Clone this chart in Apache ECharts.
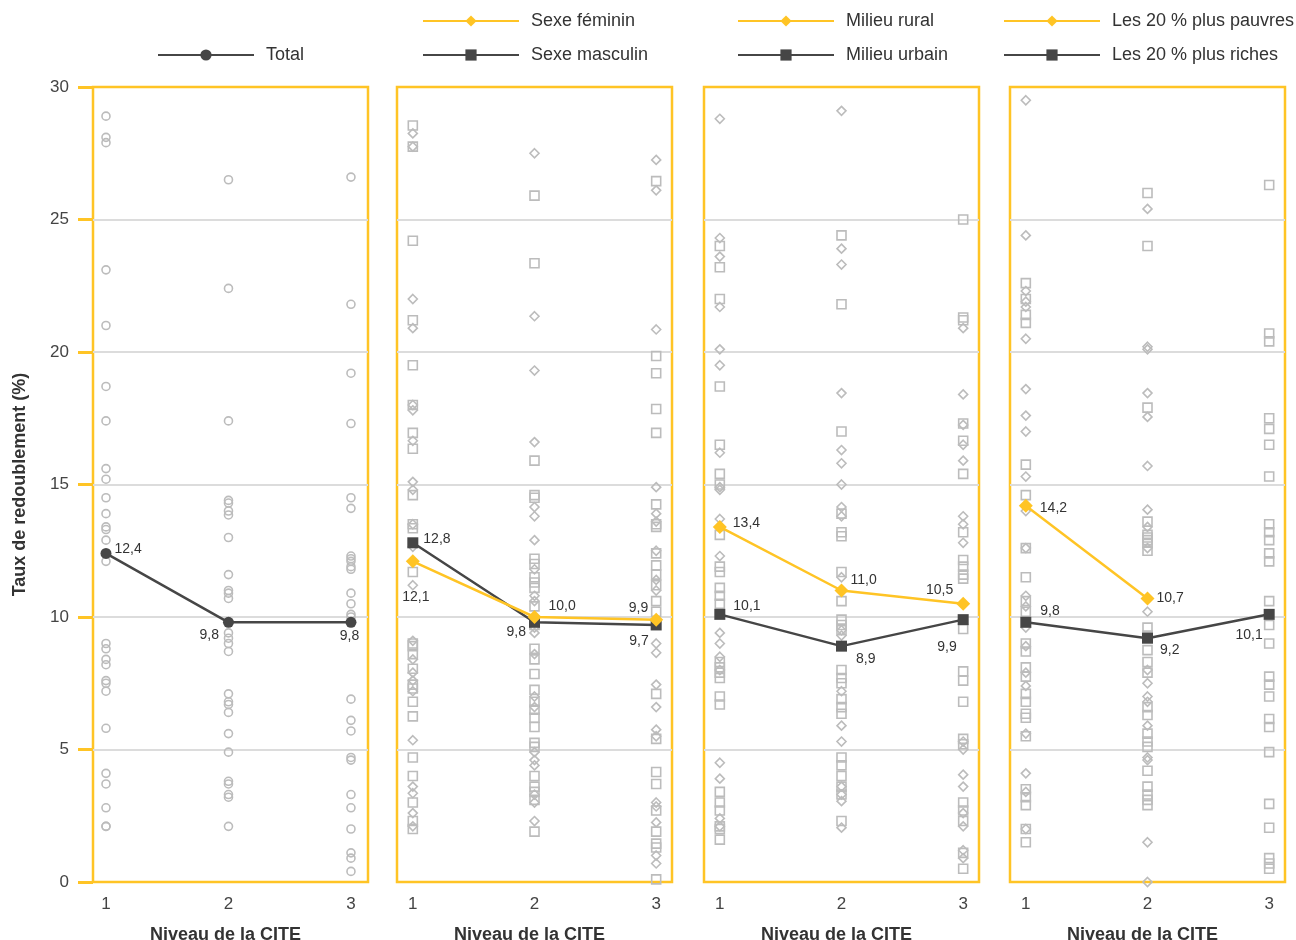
<!DOCTYPE html>
<html><head><meta charset="utf-8">
<script src="https://cdn.jsdelivr.net/npm/echarts@6/dist/echarts.min.js"></script>
<style>html,body{margin:0;padding:0;background:#fff}#c{width:1296px;height:940px}</style>
</head><body><div id="c"></div>
<script>
// ---- Data ----
const levels = [1, 2, 3];
const yTicks = [0, 5, 10, 15, 20, 25, 30];

// Line series (means)
const totalLine = [12.4, 9.8, 9.8];
const femLine = [12.1, 10.0, 9.9];
const mascLine = [12.8, 9.8, 9.7];
const ruralLine = [13.4, 11.0, 10.5];
const urbainLine = [10.1, 8.9, 9.9];
const pauvresLine = [14.2, 10.7];
const richesLine = [9.8, 9.2, 10.1];

// Country points, per CITE level [level1, level2, level3]
const totalPts = [
  [28.9, 28.1, 27.9, 23.1, 21.0, 18.7, 17.4, 15.6, 15.2, 14.5, 13.9, 13.4, 13.3, 12.9, 12.1, 9.0, 8.8, 8.4, 8.2, 7.6, 7.5, 7.2, 5.8, 4.1, 3.7, 2.8, 2.1, 2.1],
  [26.5, 22.4, 17.4, 14.4, 14.3, 14.0, 13.85, 13.0, 11.6, 11.0, 10.9, 10.7, 9.4, 9.2, 9.0, 8.7, 7.1, 6.8, 6.7, 6.4, 5.6, 4.9, 3.8, 3.7, 3.3, 3.2, 2.1],
  [26.6, 21.8, 19.2, 17.3, 14.5, 14.1, 12.3, 12.2, 12.1, 11.9, 11.8, 10.9, 10.5, 10.1, 10.0, 6.9, 6.1, 5.7, 4.7, 4.6, 3.3, 2.8, 2.0, 1.1, 0.9, 0.4]
];
const femPts = [
  [28.25, 27.75, 22.0, 20.9, 18.0, 17.8, 16.65, 15.1, 14.8, 13.5, 12.65, 11.2, 9.1, 8.4, 7.9, 7.6, 7.2, 5.35, 3.6, 3.35, 2.6, 2.1],
  [27.5, 21.35, 19.3, 16.6, 14.15, 13.8, 12.9, 11.8, 10.8, 10.6, 9.6, 9.4, 8.6, 7.0, 6.6, 4.9, 4.6, 4.4, 3.3, 3.0, 2.3],
  [27.25, 26.1, 20.85, 14.9, 13.9, 13.6, 12.5, 11.4, 11.0, 9.0, 8.65, 7.45, 6.6, 5.75, 5.5, 3.0, 2.85, 2.25, 1.0, 0.7]
];
const mascPts = [
  [28.55, 27.75, 24.2, 21.2, 19.5, 18.0, 16.95, 16.35, 14.6, 13.5, 13.35, 11.7, 9.0, 8.9, 8.6, 8.05, 7.45, 7.3, 6.8, 6.25, 4.7, 4.0, 3.0, 2.3, 2.0],
  [25.9, 23.35, 15.9, 14.6, 14.5, 12.2, 12.0, 11.5, 11.3, 11.1, 10.4, 9.7, 8.8, 8.4, 7.85, 7.25, 6.8, 6.5, 6.2, 5.85, 5.25, 5.1, 4.0, 3.6, 3.4, 3.1, 1.9],
  [26.45, 19.85, 19.2, 17.85, 16.95, 14.25, 13.5, 13.4, 12.4, 11.95, 11.6, 11.2, 10.6, 10.2, 7.1, 5.4, 4.15, 3.7, 2.7, 1.9, 1.45, 1.3, 0.1]
];
const ruralPts = [
  [28.8, 24.3, 23.6, 21.7, 20.1, 19.5, 16.2, 14.9, 14.8, 13.7, 12.3, 9.4, 9.0, 8.5, 8.0, 4.5, 3.9, 2.4, 2.1],
  [29.1, 23.9, 23.3, 18.45, 16.3, 15.8, 15.0, 14.15, 13.8, 11.5, 9.5, 9.3, 7.2, 5.9, 5.3, 3.6, 3.3, 3.05, 2.05],
  [20.9, 18.4, 17.25, 16.5, 15.9, 13.8, 13.5, 12.8, 5.3, 5.0, 4.05, 3.6, 2.6, 2.1, 1.2, 0.9]
];
const urbainPts = [
  [24.0, 23.2, 22.0, 18.7, 16.5, 15.4, 15.0, 13.1, 11.9, 11.7, 11.1, 10.8, 10.5, 8.3, 8.1, 7.9, 7.7, 7.0, 6.7, 3.4, 3.0, 2.7, 2.1, 2.0, 1.6],
  [24.4, 21.8, 17.0, 13.9, 13.2, 13.05, 11.7, 10.6, 9.9, 9.7, 9.5, 8.0, 7.7, 7.5, 6.9, 6.6, 6.35, 4.7, 4.4, 4.0, 3.6, 3.3, 2.3],
  [25.0, 21.3, 21.2, 17.3, 16.65, 15.4, 13.2, 12.15, 11.9, 11.6, 11.45, 9.55, 7.95, 7.6, 6.8, 5.4, 5.2, 3.0, 2.7, 2.3, 1.1, 0.5]
];
const pauvresPts = [
  [29.5, 24.4, 22.3, 21.9, 21.7, 20.5, 18.6, 17.6, 17.0, 15.3, 14.0, 12.6, 10.8, 10.4, 9.6, 8.9, 7.9, 7.4, 5.6, 4.1, 3.4, 2.0],
  [25.4, 20.2, 20.1, 18.45, 17.55, 15.7, 14.05, 13.4, 12.6, 10.2, 8.0, 7.5, 7.0, 6.8, 5.9, 4.7, 4.6, 1.5, 0.0],
  []
];
const richesPts = [
  [22.6, 22.0, 21.4, 21.1, 15.75, 14.6, 12.6, 11.5, 10.6, 10.2, 9.0, 8.7, 8.1, 7.75, 7.1, 6.8, 6.35, 6.2, 5.5, 3.5, 3.2, 2.9, 2.0, 1.5],
  [26.0, 24.0, 17.9, 13.6, 13.1, 13.0, 12.9, 12.8, 12.5, 9.6, 9.3, 8.75, 8.3, 7.9, 6.6, 6.3, 5.6, 5.3, 5.1, 4.2, 3.6, 3.3, 3.1, 2.9],
  [26.3, 20.7, 20.4, 17.5, 17.1, 16.5, 15.3, 13.5, 13.2, 12.9, 12.4, 12.1, 10.6, 9.7, 9.0, 7.75, 7.45, 7.0, 6.15, 5.85, 4.9, 2.95, 2.05, 0.9, 0.7, 0.5]
];

// ---- Styles ----
const YEL = '#FFC425', DARK = '#464646', PTS = '#bcbcbc', SPLIT = '#dcdcdc', TXT = '#333';
const FONT = 'Liberation Sans, Arial, sans-serif';
const gridLefts = [93, 397, 704, 1010];
const xRanges = [[0.894, 3.139], [0.87, 3.13], [0.87, 3.13], [0.87, 3.13]];

// label placement per line point: [position, dx, dy]
const lbl = {
  total: [['right', 0, -4], ['left', -1, 13], ['bottom', -1.5, -2]],
  fem: [['bottom', 3, 19], ['right', 4, -11], ['left', 2, -12]],
  masc: [['right', 2, -4], ['left', 0, 10], ['left', 1, 16]],
  rural: [['right', 3, -4], ['right', -1, -10], ['left', 0, -14]],
  urbain: [['right', 5, -8], ['right', 6, 13], ['left', 2, 27]],
  pauvres: [['right', 4, 2], ['right', -1, 0]],
  riches: [['right', 6, -11], ['right', 4, 12], ['left', 2, 21]]
};
const fmt = v => v.toFixed(1).replace('.', ',');

const grids = gridLefts.map(l => ({ left: l, top: 87, width: 275, height: 795, show: true, borderColor: YEL, borderWidth: 2.5, backgroundColor: 'transparent', outerBoundsMode: 'none', containLabel: false }));

const xAxes = gridLefts.map((l, i) => ({
  type: 'value', gridIndex: i, min: xRanges[i][0], max: xRanges[i][1],
  name: 'Niveau de la CITE', nameLocation: 'middle', nameGap: 44,
  nameTextStyle: { fontFamily: FONT, fontSize: 18, fontWeight: 'bold', color: TXT, padding: [0, 10, 0, 0] },
  axisLine: { show: false }, axisTick: { show: false }, splitLine: { show: false },
  axisLabel: { margin: 14, fontFamily: FONT, fontSize: 17, color: '#444', formatter: v => (Math.abs(v - Math.round(v)) < 1e-9 && levels.includes(Math.round(v))) ? String(Math.round(v)) : '' }
}));

const yAxes = gridLefts.map((l, i) => ({
  type: 'value', gridIndex: i, min: yTicks[0], max: yTicks[yTicks.length - 1], interval: 5,
  name: i === 0 ? 'Taux de redoublement (%)' : '', nameLocation: 'middle', nameGap: 64,
  nameTextStyle: { fontFamily: FONT, fontSize: 18, fontWeight: 'bold', color: TXT },
  axisLine: { show: false },
  axisTick: { show: i === 0, length: 15, lineStyle: { color: YEL, width: 3 } },
  axisLabel: { show: i === 0, margin: 24, fontFamily: FONT, fontSize: 17, color: '#444' },
  splitLine: { show: true, showMinLine: false, showMaxLine: false, lineStyle: { color: SPLIT, width: 2 } }
}));

function pts(levelsArr) {
  const out = [];
  levelsArr.forEach((arr, i) => arr.forEach(v => out.push([levels[i], v])));
  return out;
}
function scatter(name, arr, gi, symbol, size) {
  return { name, type: 'scatter', xAxisIndex: gi, yAxisIndex: gi, symbol, symbolSize: size, z: 2, silent: true,
    itemStyle: { color: 'rgba(255,255,255,0)', borderColor: PTS, borderWidth: 1.6, opacity: 1 }, data: pts(arr) };
}
function line(name, vals, gi, color, symbol, size, labels) {
  return { name, type: 'line', xAxisIndex: gi, yAxisIndex: gi, symbol, symbolSize: size, z: 5,
    lineStyle: { color, width: 2.5 }, itemStyle: { color },
    data: vals.map((v, i) => ({ value: [levels[i], v],
      label: { show: true, position: labels[i][0], offset: [labels[i][1], labels[i][2]], distance: 3,
        formatter: fmt(v), fontFamily: FONT, fontSize: 14, color: TXT } })) };
}

const series = [
  scatter('pTotal', totalPts, 0, 'circle', 8),
  scatter('pFem', femPts, 1, 'diamond', 9), scatter('pMasc', mascPts, 1, 'rect', 9),
  scatter('pRural', ruralPts, 2, 'diamond', 9), scatter('pUrb', urbainPts, 2, 'rect', 9),
  scatter('pPauv', pauvresPts, 3, 'diamond', 9), scatter('pRich', richesPts, 3, 'rect', 9),
  line('Total', totalLine, 0, DARK, 'circle', 11, lbl.total),
  line('Sexe masculin', mascLine, 1, DARK, 'rect', 11, lbl.masc),
  line('Sexe féminin', femLine, 1, YEL, 'diamond', 14, lbl.fem),
  line('Milieu urbain', urbainLine, 2, DARK, 'rect', 11, lbl.urbain),
  line('Milieu rural', ruralLine, 2, YEL, 'diamond', 14, lbl.rural),
  line('Les 20 % plus riches', richesLine, 3, DARK, 'rect', 11, lbl.riches),
  line('Les 20 % plus pauvres', pauvresLine, 3, YEL, 'diamond', 14, lbl.pauvres)
];

const legBase = { orient: 'vertical', itemWidth: 96, itemHeight: 14, itemGap: 16, selectedMode: false,
  textStyle: { fontFamily: FONT, fontSize: 18, color: TXT, padding: [0, 0, 0, 7] } };
const legend = [
  Object.assign({}, legBase, { left: 152, top: 41, data: ['Total'] }),
  Object.assign({}, legBase, { left: 417, top: 7, data: ['Sexe féminin', 'Sexe masculin'] }),
  Object.assign({}, legBase, { left: 732, top: 7, data: ['Milieu rural', 'Milieu urbain'] }),
  Object.assign({}, legBase, { left: 998, top: 7, data: ['Les 20 % plus pauvres', 'Les 20 % plus riches'] })
];

const chart = echarts.init(document.getElementById('c'));
chart.setOption({ animation: false, backgroundColor: '#fff', grid: grids, xAxis: xAxes, yAxis: yAxes, legend, series });
</script></body></html>
